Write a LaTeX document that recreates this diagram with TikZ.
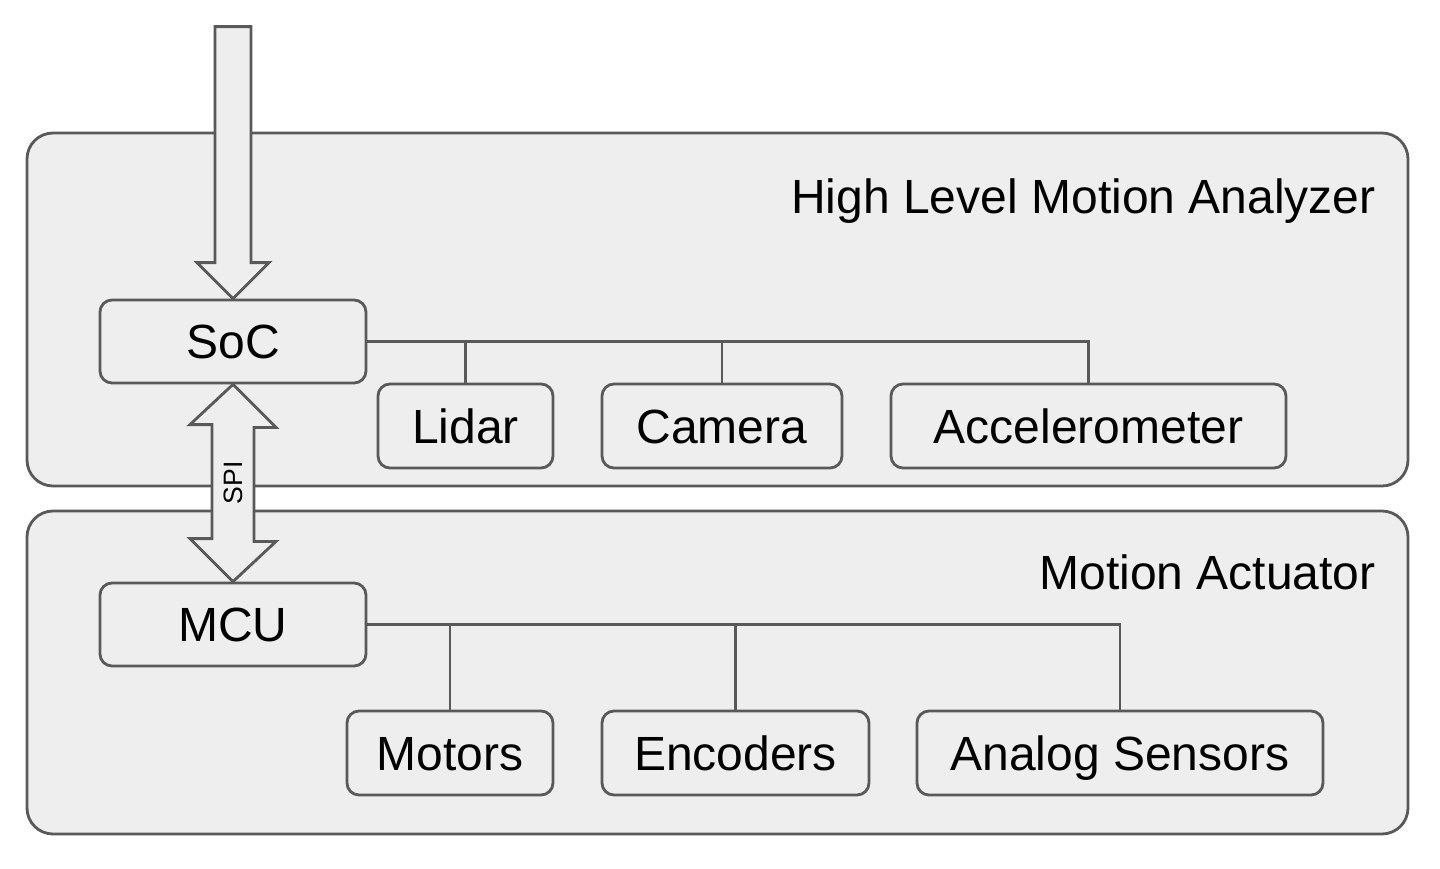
\documentclass[tikz,border=0pt]{standalone}
\usepackage{fontspec}
\setmainfont{Liberation Sans}
\usetikzlibrary{calc}
\definecolor{panelfill}{HTML}{EEEEEE}
\definecolor{edgegray}{HTML}{595959}
\begin{document}
\begin{tikzpicture}[x=0.5pt, y=-0.5pt,
  panel/.style={draw=edgegray, fill=panelfill, line width=1.4pt, rounded corners=13pt},
  unit/.style={draw=edgegray, fill=panelfill, line width=1.4pt, rounded corners=6pt,
    font=\fontsize{24}{28}\selectfont, text height=17.2pt, text depth=0pt, inner sep=0pt},
  wire/.style={draw=edgegray, line width=1.4pt},
  bigarrow/.style={draw=edgegray, fill=panelfill, line width=1.4pt, line join=miter},
  title/.style={font=\fontsize{24}{28}\selectfont, anchor=base east, inner sep=0pt}]
  \useasboundingbox (0,0) rectangle (1440,868);

  % Panels
  \node[panel, minimum width=690.5pt, minimum height=176.5pt] (hlma) at (717.5,309.5) {};
  \node[panel, minimum width=690.5pt, minimum height=161.5pt] (act) at (717.5,672.5) {};
  \node[title] (hlmatitle) at (1376,213) {High Level Motion Analyzer};
  \node[title] (acttitle) at (1376,589) {Motion Actuator};

  % Units
  \node[unit, minimum width=133pt, minimum height=41.5pt] (soc) at (233,341.5) {SoC};
  \node[unit, minimum width=87.5pt, minimum height=42pt] (lidar) at (465.5,426) {Lidar};
  \node[unit, minimum width=120pt, minimum height=42pt] (camera) at (722,426) {Camera};
  \node[unit, minimum width=197.5pt, minimum height=42pt] (accel) at (1088.5,426) {Accelerometer};
  \node[unit, minimum width=133pt, minimum height=41.5pt] (mcu) at (233,624.5) {MCU};
  \node[unit, minimum width=103pt, minimum height=42pt] (motors) at (450,753) {Motors};
  \node[unit, minimum width=133.5pt, minimum height=42pt] (encoders) at (735.5,753) {Encoders};
  \node[unit, minimum width=203pt, minimum height=42pt] (analog) at (1120,753) {Analog Sensors};

  % Buses
  \draw[wire] (soc.east) -- (soc.east -| accel.north) -- (accel.north);
  \draw[wire] (soc.east -| lidar.north) -- (lidar.north);
  \draw[wire] (soc.east -| camera.north) -- (camera.north);
  \draw[wire] (mcu.east) -- (mcu.east -| analog.north) -- (analog.north);
  \draw[wire] (mcu.east -| motors.north) -- (motors.north);
  \draw[wire] (mcu.east -| encoders.north) -- (encoders.north);

  % Block arrows
  \draw[bigarrow] (soc.north) -- ++(36,-36) -- ++(-18,0) -- ++(0,-236)
    -- ++(-36,0) -- ++(0,236) -- ++(-18,0) -- cycle;
  \draw[bigarrow] (soc.south) -- ++(43,43) -- ++(-22,0) -- ++(0,114) -- ++(22,0)
    -- (mcu.north) -- ++(-43,-43) -- ++(22,0) -- ++(0,-114) -- ++(-22,0) -- cycle;
  \node[rotate=90, font=\fontsize{13.3}{15}\selectfont, inner sep=0pt] (spi)
    at ($(soc.south)!0.5!(mcu.north)$) {SPI};
\end{tikzpicture}
\end{document}
